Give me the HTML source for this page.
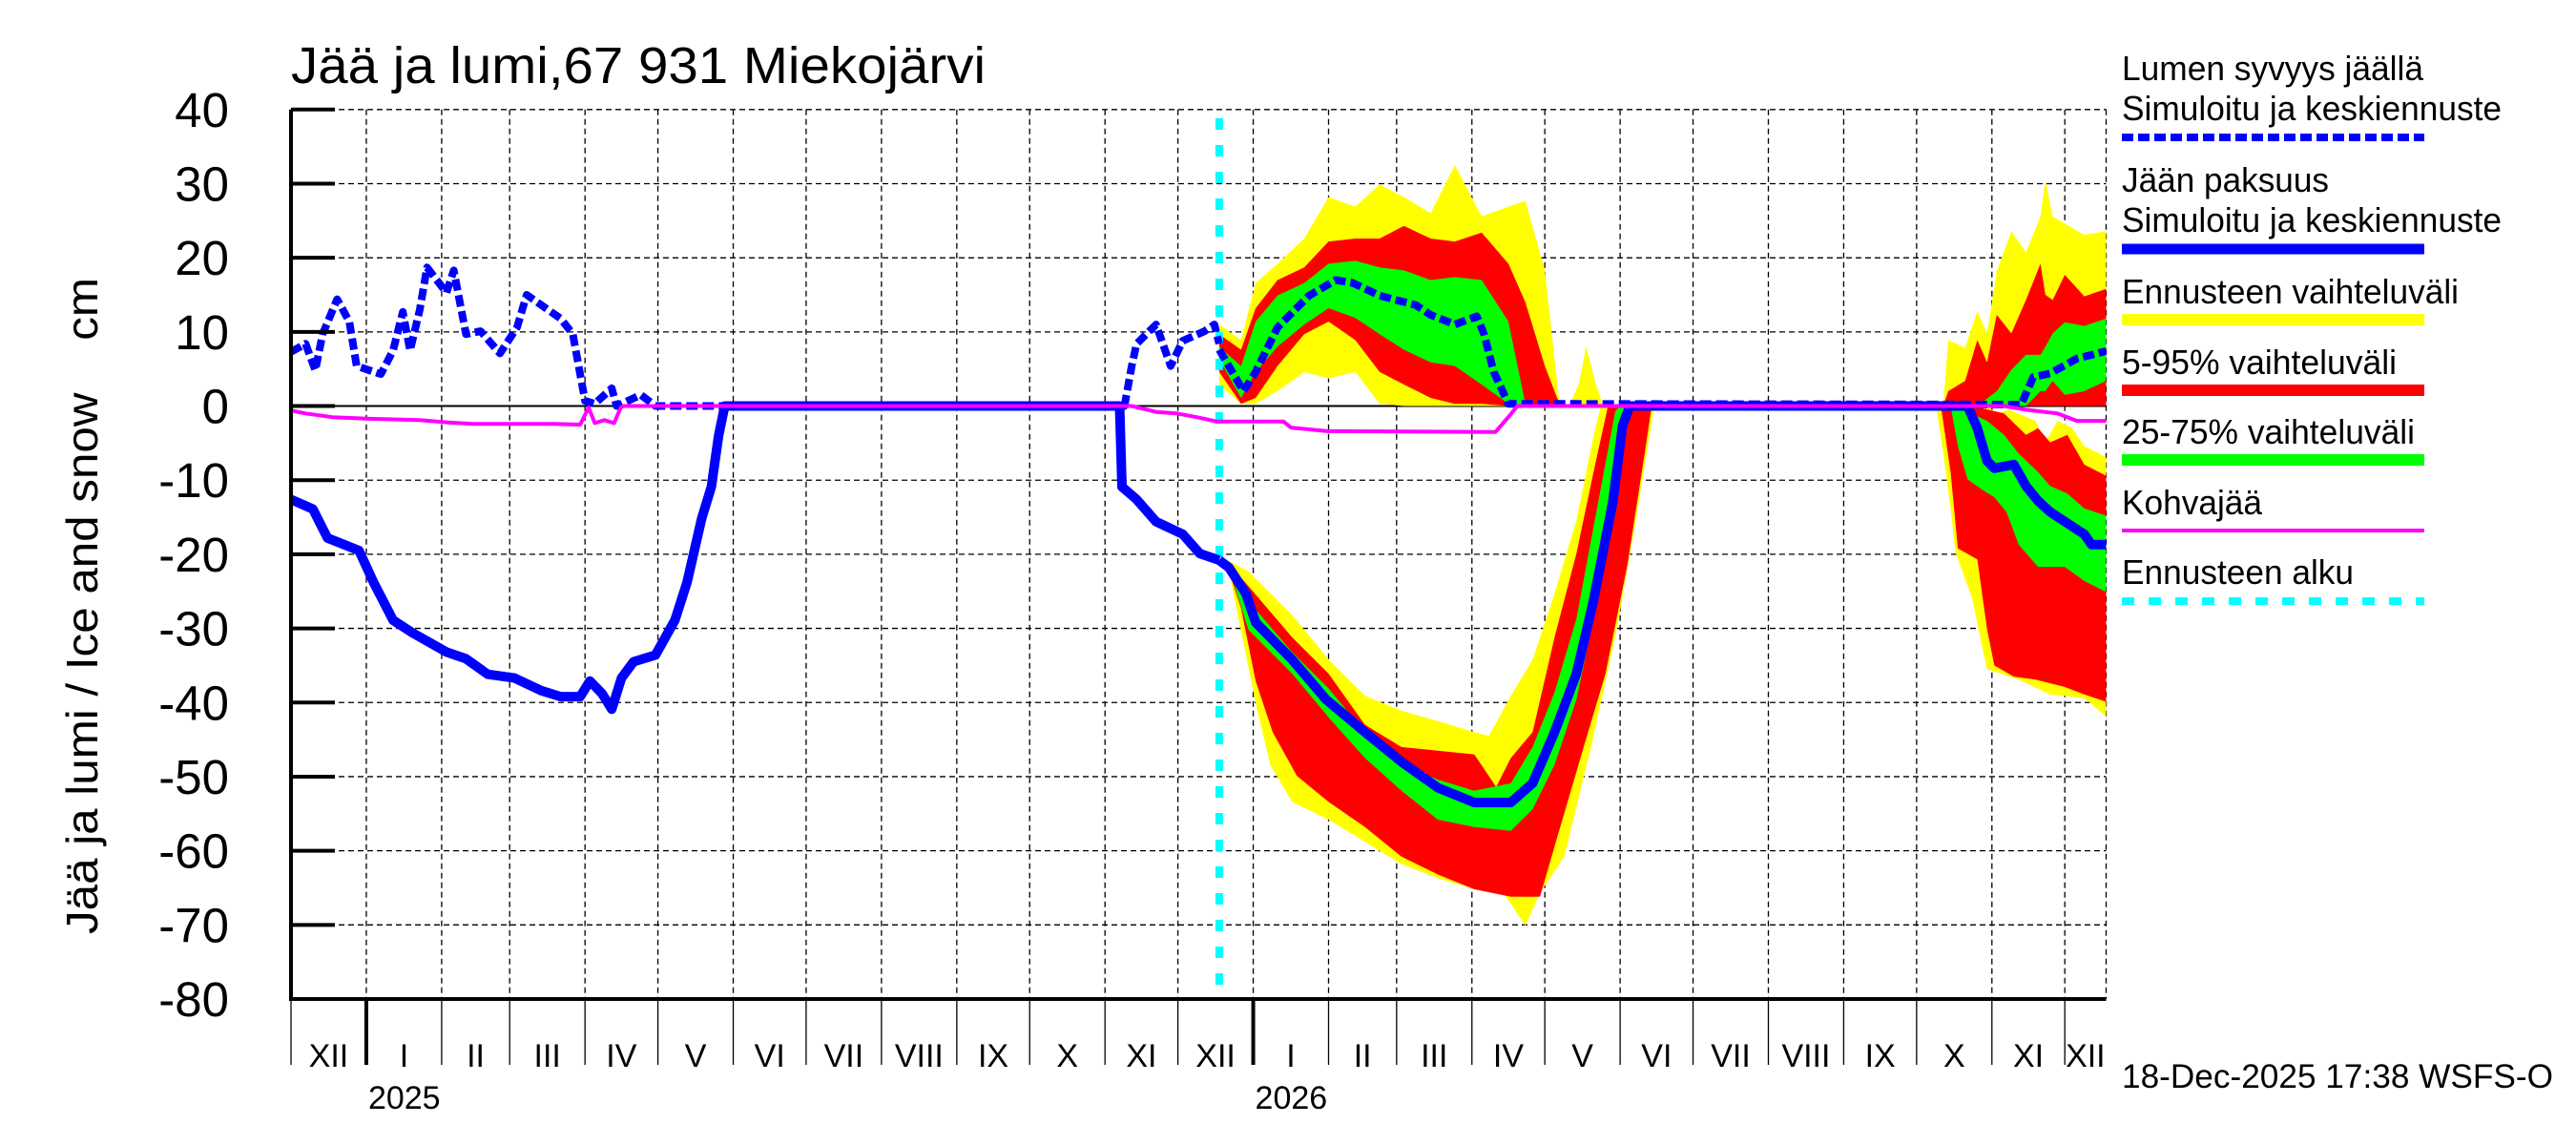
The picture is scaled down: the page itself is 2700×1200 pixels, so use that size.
<!DOCTYPE html>
<html><head><meta charset="utf-8">
<style>
html,body{margin:0;padding:0;background:#fff;}
svg{display:block;font-family:"Liberation Sans",sans-serif;}
</style></head>
<body>
<svg id="chart" width="2700" height="1200" viewBox="0 0 2700 1200" xmlns="http://www.w3.org/2000/svg">
<defs><clipPath id="plotclip"><rect x="305" y="110" width="1903" height="937"/></clipPath></defs>
<rect x="0" y="0" width="2700" height="1200" fill="#fff"/>
<text x="305" y="87" font-size="54" textLength="728" lengthAdjust="spacingAndGlyphs">Jää ja lumi,67 931 Miekojärvi</text>
<text transform="translate(102,979) rotate(-90)" font-size="46" textLength="688" lengthAdjust="spacingAndGlyphs" xml:space="preserve">Jää ja lumi / Ice and snow    cm</text>
<g id="grid"></g>
<g id="bands" clip-path="url(#plotclip)"></g>
<g id="lines" clip-path="url(#plotclip)"></g>
<g id="axes"></g>
<g id="legend">
  <text x="2224" y="84" font-size="36" textLength="316" lengthAdjust="spacingAndGlyphs">Lumen syvyys jäällä</text>
  <text x="2224" y="126" font-size="36" textLength="398" lengthAdjust="spacingAndGlyphs">Simuloitu ja keskiennuste</text>
  <line x1="2224" y1="144" x2="2541" y2="144" stroke="#0000ff" stroke-width="8" stroke-dasharray="12 5"/>
  <text x="2224" y="201" font-size="36" textLength="217" lengthAdjust="spacingAndGlyphs">Jään paksuus</text>
  <text x="2224" y="243" font-size="36" textLength="398" lengthAdjust="spacingAndGlyphs">Simuloitu ja keskiennuste</text>
  <line x1="2224" y1="261" x2="2541" y2="261" stroke="#0000ff" stroke-width="11"/>
  <text x="2224" y="318" font-size="36" textLength="353" lengthAdjust="spacingAndGlyphs">Ennusteen vaihteluväli</text>
  <line x1="2224" y1="335" x2="2541" y2="335" stroke="#ffff00" stroke-width="12"/>
  <text x="2224" y="392" font-size="36" textLength="288" lengthAdjust="spacingAndGlyphs">5-95% vaihteluväli</text>
  <line x1="2224" y1="409" x2="2541" y2="409" stroke="#ff0000" stroke-width="12"/>
  <text x="2224" y="465" font-size="36" textLength="307" lengthAdjust="spacingAndGlyphs">25-75% vaihteluväli</text>
  <line x1="2224" y1="482" x2="2541" y2="482" stroke="#00ff00" stroke-width="12"/>
  <text x="2224" y="539" font-size="36" textLength="147" lengthAdjust="spacingAndGlyphs">Kohvajää</text>
  <line x1="2224" y1="556" x2="2541" y2="556" stroke="#ff00ff" stroke-width="4"/>
  <text x="2224" y="612" font-size="36" textLength="243" lengthAdjust="spacingAndGlyphs">Ennusteen alku</text>
  <line x1="2224" y1="630" x2="2541" y2="630" stroke="#00ffff" stroke-width="8" stroke-dasharray="13 15"/>
</g>
<text x="2224" y="1140" font-size="35" textLength="452" lengthAdjust="spacingAndGlyphs">18-Dec-2025 17:38 WSFS-O</text>
</svg>
<script>
// Day index 0 = 1 Dec 2024; values in cm
const monthStartDays = [0,31,62,90,121,151,182,212,243,274,304,335,365,396,427,455,486,516,547,577,608,639,669,700,730,747];
const monthLabels = ["XII","I","II","III","IV","V","VI","VII","VIII","IX","X","XI","XII","I","II","III","IV","V","VI","VII","VIII","IX","X","XI","XII"];
const yearDays = [31,396];
const yearLabels = ["2025","2026"];
const yTicks = [40,30,20,10,0,-10,-20,-30,-40,-50,-60,-70,-80];
const forecastStartDay = 382;

const snowObsDays = [0,6,10,13,19,24,27,37,42,46,49,53,56,64,67,72,78,86,93,97,111,116,121,125,132,134,144,148,150,343,346,348,356,362,367,376,380,382];
const snowObsVals = [7.3,8.4,4.8,9.7,14.4,11.4,5.4,4.3,7.5,12.7,7.5,13,18.7,15.3,18.3,9.7,10.1,7.1,10.6,15,11.8,9.7,0.7,0.3,2.4,0,1.5,0.5,0,0,5.4,8.4,11,5.4,8.8,10.1,11,8.4];
const snowMeanDays = [382,392,397,406,419,430,437,448,463,469,479,488,491,495,501,712,717,724,735,747];
const snowMeanVals = [7.6,2,4.6,10.6,14.9,17,16.6,14.9,13.6,12.3,11,12.1,9.7,4.6,0.3,0.2,3.9,4.4,6.4,7.4];

const snowBandDays = [382,391,397,406,417,427,438,448,458,469,479,490,501,508,516,522];
const snowYelHi = [11,8.9,16.6,19.2,22.6,28.2,26.9,29.9,28.2,26,32.5,25.6,26.9,27.7,18.3,0.3];
const snowRedHi = [9.7,7.6,13.2,17,18.7,22.2,22.6,22.6,24.3,22.6,22.2,23.4,19.2,14,5.4,0.3];
const snowGrnHi = [8,5.4,11.4,14.9,16.6,19.2,19.6,18.7,18.3,17,17.4,17,11.4,0.3,0,0];
const snowGrnLo = [6.3,1.1,4.6,8,11,13.2,11.9,9.7,7.6,5.9,5.4,2.9,0.3,0,0,0];
const snowRedLo = [4.6,0.3,1.1,5.4,9.7,11.4,8.9,4.6,2.9,1.1,0.3,0.3,0,0,0,0];
const snowYelLo = [2.9,0.3,0.3,2,4.6,3.7,4.6,0.3,0,0,0,0,0,0,0,0];
const snowSpikeDays = [526,530,533,537,540];
const snowSpikeHi = [0,3,8,3,0];
const snowSpikeLo = [0,0,0,0,0];

const snowBand2Days = [680,682,689,694,698,702,708,714,720,722,725,730,738,747];
const snow2YelHi = [0,8.9,7.9,12.8,9.8,18.2,23.6,20.7,25.6,30.5,25.6,24.6,23.1,23.6];
const snow2RedHi = [0,2,3.4,8.9,5.9,12.3,9.8,14.3,19.2,15,14.3,17.7,14.8,15.8];
const snow2GrnHi = [0,0,0,0,1,2,4.9,6.9,6.9,8,9.8,11.3,10.8,11.8];
const snow2GrnLo = [0,0,0,0,0,0,0,0,2,2,3.4,1.5,2,3.4];
const snow2Zero = [0,0,0,0,0,0,0,0,0,0,0,0,0,0];

const iceObsDays = [0,9,15,28,34,42,50,64,72,81,92,103,111,119,123,128,132,136,141,150,158,163,169,173,176,178.5,341,342,348,356,367,374,382];
const iceObsVals = [-12.6,-13.9,-17.8,-19.5,-23.8,-28.9,-30.6,-33.2,-34.1,-36.2,-36.7,-38.4,-39.2,-39.2,-37.1,-38.8,-40.9,-36.7,-34.5,-33.6,-28.9,-23.8,-15.2,-10.9,-4,0,0,-10.9,-12.6,-15.6,-17.3,-19.9,-20.8];
const iceMeanDays = [382,386,393,397,412,426,442,457,472,487,502,511,520,529,536,544,548,551,690,694,698,701,709,714,719,724,731,738,741,747];
const iceMeanVals = [-20.8,-21.8,-25.3,-29.2,-34.2,-39.6,-44,-48,-51.5,-53.5,-53.5,-50.9,-44,-36.1,-26.3,-12.9,-2.6,0,0,-3,-7.4,-8.4,-7.9,-10.8,-12.8,-14.3,-15.8,-17.3,-18.7,-18.7];

const iceYelHiDays = [382,386,394,412,427,442,457,472,487,493,502,511,520,529,536,539];
const iceYelHiVals = [-20.8,-20.9,-22.3,-28.2,-34.2,-39.1,-41.1,-42.5,-44,-44.5,-39.1,-34.2,-25.3,-15.4,-4.1,0];
const iceRedHiDays = [382,386,394,412,427,442,457,472,487,496,502,511,520,529,536,542];
const iceRedHiVals = [-20.8,-21.3,-24.3,-31.2,-36.1,-43,-46,-46.5,-47,-51.4,-47.5,-44,-31.2,-19.9,-9,0];
const iceGrnHiDays = [382,386,394,412,427,442,457,472,487,502,511,520,529,536,545,547];
const iceGrnHiVals = [-20.8,-21.6,-26.3,-33.2,-38.1,-44,-48.4,-50.4,-51.9,-50.9,-46,-38.6,-28.7,-16.4,-0.7,0];
const iceGrnLoDays = [382,386,394,412,427,442,457,472,487,502,511,520,529,536,545,551];
const iceGrnLoVals = [-20.8,-21.8,-30.2,-36.1,-42,-47.5,-51.9,-55.8,-56.8,-57.3,-54.4,-48.4,-39.6,-28.7,-11.5,0];
const iceRedLoDays = [382,386,391,397,404,414,427,442,457,472,487,502,514,521,532,541,550,557,560];
const iceRedLoVals = [-20.8,-22.3,-27.3,-37.1,-44,-49.9,-53.4,-56.8,-60.8,-63.2,-65.2,-66.2,-66.2,-58.3,-46,-36.1,-21.4,-6.6,0];
const iceYelLoDays = [382,386,397,403,412,427,442,457,472,487,499,508,514,524,535,545,553,559,561];
const iceYelLoVals = [-20.8,-22.3,-40.1,-48.4,-53.4,-55.8,-58.8,-61.8,-63.7,-65.2,-65.7,-70.1,-65.7,-60.8,-46,-31.2,-16.4,-4.1,0];

const ice2YelHiDays = [698,702,707,718,722,727,733,738,747];
const ice2YelHiVals = [0,-1,-0.5,-2,-4.9,-2,-3,-5.4,-6.9];
const ice2RedHiDays = [692,705,714,719,724,731,738,747];
const ice2RedHiVals = [0,-1,-3.9,-3,-4.9,-3.9,-7.9,-9.4];
const ice2GrnHiDays = [685,698,705,711,719,724,731,738,747];
const ice2GrnHiVals = [0,-2,-3.9,-6.4,-8.9,-10.8,-11.8,-13.8,-14.8];
const ice2GrnLoDays = [683,686,690,696,701,706,711,719,730,738,747];
const ice2GrnLoVals = [0,-5.4,-9.9,-11.3,-12.3,-14.3,-18.7,-21.7,-21.7,-23.6,-25.1];
const ice2RedLoDays = [679,683,686,694,698,701,709,718,730,738,747];
const ice2RedLoVals = [0,-8.9,-19.2,-20.7,-30.1,-35,-36.5,-36.9,-37.9,-38.9,-39.9];
const ice2YelLoDays = [677,680,683,685,692,696,698,711,724,738,747];
const ice2YelLoVals = [0,-6.4,-13.8,-19.7,-26.1,-32.5,-35.5,-36.9,-38.9,-39.4,-41.9];

const kohvaDays = [0,6,17,31,53,64,75,108,119,122.5,125,129,133,135.7,137,346,356,364.5,372.7,381,408.5,411.5,426.5,495.7,501.7,504.7,705,714,727,735,747];
const kohvaVals = [-0.6,-1,-1.5,-1.7,-1.9,-2.2,-2.4,-2.4,-2.5,-0.2,-2.3,-1.9,-2.3,-0.2,0,0,-0.8,-1,-1.5,-2.1,-2.1,-2.9,-3.4,-3.5,-1.2,0,0,-0.5,-1,-2,-2];

const NS = "http://www.w3.org/2000/svg";
const PX0 = 305, PX1 = 2207.5, PY0 = 114.8, PY1 = 1047;
const xS = d => PX0 + d * (PX1 - PX0) / 747;
const yS = v => PY0 + (40 - v) * (PY1 - PY0) / 120;
function mk(tag, attrs, parent) {
  const e = document.createElementNS(NS, tag);
  for (const k in attrs) e.setAttribute(k, attrs[k]);
  parent.appendChild(e);
  return e;
}
const gGrid = document.getElementById('grid');
const gBands = document.getElementById('bands');
const gLines = document.getElementById('lines');
const gAxes = document.getElementById('axes');

// horizontal grid + y ticks + labels
yTicks.forEach(v => {
  const gl = mk('line', {x1: PX0, x2: PX1, y1: yS(v), y2: yS(v), stroke: '#000', 'stroke-width': 1.3, 'stroke-dasharray': '6 4'}, gGrid);
  
  
  const tk = mk('line', {x1: PX0, x2: PX0 + 46, y1: yS(v), y2: yS(v), stroke: '#000', 'stroke-width': 4}, gAxes);
  
  
  const t = mk('text', {x: 240, y: yS(v) + 18, 'font-size': 51, 'text-anchor': 'end'}, gAxes);
  t.textContent = String(v);
  
  
});
// vertical grid + month ticks and labels
monthStartDays.forEach((d, i) => {
  if (i > 0) {
    const gl = mk('line', {x1: xS(d), x2: xS(d), y1: PY0, y2: PY1, stroke: '#000', 'stroke-width': 1.3, 'stroke-dasharray': '6 4'}, gGrid);
    
    
  }
  if (i < monthStartDays.length - 1) {
    const tk = mk('line', {x1: xS(d), x2: xS(d), y1: PY1, y2: 1116, stroke: '#000', 'stroke-width': 1.3}, gAxes);
    
    
    const cx = (xS(d) + xS(monthStartDays[i + 1])) / 2;
    const t = mk('text', {x: cx, y: 1118, 'font-size': 34, 'text-anchor': 'middle'}, gAxes);
    t.textContent = monthLabels[i];
    
    
  }
});
yearDays.forEach((d, i) => {
  const tk = mk('line', {x1: xS(d), x2: xS(d), y1: PY1, y2: 1116, stroke: '#000', 'stroke-width': 4}, gAxes);
  
  
  const t = mk('text', {x: xS(d) + 2, y: 1162, 'font-size': 34}, gAxes);
  t.textContent = yearLabels[i];
  
  
});
// zero line
const zl = mk('line', {x1: PX0, x2: PX1, y1: yS(0), y2: yS(0), stroke: '#000', 'stroke-width': 2}, gGrid);


// axes
const ax = mk('polyline', {points: `${PX0},${PY0} ${PX0},${PY1} ${PX1},${PY1}`, fill: 'none', stroke: '#000', 'stroke-width': 4}, gAxes);



function pts(days, vals) { return days.map((d, i) => xS(d).toFixed(1) + ',' + yS(vals[i]).toFixed(1)); }
function band(d1, v1, d2, v2, color, name) {
  const p = pts(d1, v1).concat(pts(d2, v2).reverse());
  const e = mk('polygon', {points: p.join(' '), fill: color}, gBands);
  
  
}
// snow bands winter 2026
band(snowBandDays, snowYelHi, snowBandDays, snowYelLo, '#ffff00', 'snow-band-range');
band(snowSpikeDays, snowSpikeHi, snowSpikeDays, snowSpikeLo, '#ffff00', 'snow-band-range-spike');
band(snowBandDays, snowRedHi, snowBandDays, snowRedLo, '#ff0000', 'snow-band-5-95');
band(snowBandDays, snowGrnHi, snowBandDays, snowGrnLo, '#00ff00', 'snow-band-25-75');
// snow bands late 2026
band(snowBand2Days, snow2YelHi, snowBand2Days, snow2Zero, '#ffff00', 'snow2-band-range');
band(snowBand2Days, snow2RedHi, snowBand2Days, snow2Zero, '#ff0000', 'snow2-band-5-95');
band(snowBand2Days, snow2GrnHi, snowBand2Days, snow2GrnLo, '#00ff00', 'snow2-band-25-75');
// ice bands 2026
band(iceYelHiDays, iceYelHiVals, iceYelLoDays, iceYelLoVals, '#ffff00', 'ice-band-range');
band(iceRedHiDays, iceRedHiVals, iceRedLoDays, iceRedLoVals, '#ff0000', 'ice-band-5-95');
band(iceGrnHiDays, iceGrnHiVals, iceGrnLoDays, iceGrnLoVals, '#00ff00', 'ice-band-25-75');
band(ice2YelHiDays, ice2YelHiVals, ice2YelLoDays, ice2YelLoVals, '#ffff00', 'ice2-band-range');
band(ice2RedHiDays, ice2RedHiVals, ice2RedLoDays, ice2RedLoVals, '#ff0000', 'ice2-band-5-95');
band(ice2GrnHiDays, ice2GrnHiVals, ice2GrnLoDays, ice2GrnLoVals, '#00ff00', 'ice2-band-25-75');

// forecast start line
const fs = mk('line', {x1: xS(forecastStartDay), x2: xS(forecastStartDay), y1: 124, y2: PY1, stroke: '#00ffff', 'stroke-width': 8, 'stroke-dasharray': '12 16'}, gLines);



function line(days, vals, color, w, dash, name) {
  const a = {points: pts(days, vals).join(' '), fill: 'none', stroke: color, 'stroke-width': w, 'stroke-linejoin': 'round'};
  if (dash) a['stroke-dasharray'] = dash;
  const e = mk('polyline', a, gLines);
  
  
}
line(iceObsDays, iceObsVals, '#0000ff', 10, null, 'ice-observed-line');
line(iceMeanDays, iceMeanVals, '#0000ff', 10, null, 'ice-forecast-mean-line');
line(snowObsDays, snowObsVals, '#0000ff', 8, '12 5', 'snow-observed-line');
line(snowMeanDays, snowMeanVals, '#0000ff', 8, '12 5', 'snow-forecast-mean-line');
line(kohvaDays, kohvaVals, '#ff00ff', 4, null, 'kohva-ice-line');
</script>
</body></html>
